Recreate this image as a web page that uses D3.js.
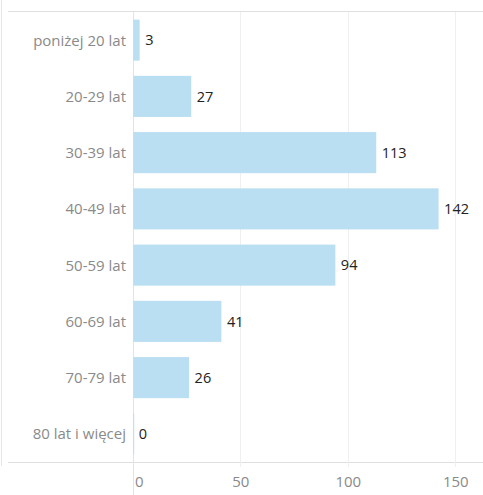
<!DOCTYPE html>
<html><head><meta charset="utf-8">
<script src="https://cdn.jsdelivr.net/npm/d3@7"></script>
<style>
html,body{margin:0;padding:0;background:#fff;}
svg{display:block;font-family:"Open Sans","Lato",sans-serif;}
</style></head>
<body>
<svg id="chart" width="483" height="495"></svg>
<script>
const categories = ["poniżej 20 lat","20-29 lat","30-39 lat","40-49 lat","50-59 lat","60-69 lat","70-79 lat","80 lat i więcej"];
const values = [3,27,113,142,94,41,26,0];
const tickValues = [0,50,100,150];

const svg = d3.select("#chart");
const W = 483, H = 495;
const x0 = 132.7, plotTop = 12, plotBottom = 462;
const x = d3.scaleLinear().domain([0,150]).range([x0, 455.3]);
const y = d3.scaleBand().domain(categories).range([plotTop, plotBottom]).paddingInner(0.27).paddingOuter(0.135);

// frame lines
svg.append("line").attr("x1",1.5).attr("x2",1.5).attr("y1",0).attr("y2",466).attr("stroke","#e6e6e6").attr("stroke-width",1);
svg.append("line").attr("x1",8).attr("x2",W).attr("y1",11.5).attr("y2",11.5).attr("stroke","#e0e0e0").attr("stroke-width",1);
svg.append("line").attr("x1",8).attr("x2",W).attr("y1",462.5).attr("y2",462.5).attr("stroke","#e0e0e0").attr("stroke-width",1);

// gridlines
svg.append("g").selectAll("line").data(tickValues.slice(1)).join("line")
  .attr("x1",d=>Math.round(x(d))+0.5).attr("x2",d=>Math.round(x(d))+0.5)
  .attr("y1",plotTop).attr("y2",467).attr("stroke","#efefef").attr("stroke-width",1);
// zero line
svg.append("line").attr("x1",Math.round(x(0))+0.5).attr("x2",Math.round(x(0))+0.5)
  .attr("y1",plotTop).attr("y2",H).attr("stroke","#e3e3e3").attr("stroke-width",1);

// bars
svg.append("g").selectAll("rect").data(values).join("rect")
  .attr("x",x(0)+0.5)
  .attr("y",(d,i)=>y(categories[i]))
  .attr("width",d=>Math.max(1, x(d)-x(0)))
  .attr("height",y.bandwidth())
  .attr("fill","#badff2");

// value labels
svg.append("g").selectAll("text").data(values).join("text")
  .attr("x",d=>x(d)+6)
  .attr("y",(d,i)=>y(categories[i])+y.bandwidth()/2)
  .attr("dy","0.36em")
  .attr("font-size",14.5)
  .attr("fill","#222")
  .text(d=>d);

// category labels
svg.append("g").selectAll("text").data(categories).join("text")
  .attr("x",126)
  .attr("y",d=>y(d)+y.bandwidth()/2)
  .attr("dy","0.36em")
  .attr("text-anchor","end")
  .attr("font-size",15)
  .attr("fill","#8a8a8a")
  .text(d=>d);

// axis tick labels
const axis = d3.axisBottom(x).tickValues(tickValues).tickSize(0).tickPadding(0);
const ag = svg.append("g").attr("transform","translate(0,476)").call(axis);
ag.select(".domain").remove();
ag.selectAll("text").attr("font-size",15).attr("fill","#8a8a8a").attr("font-family","Open Sans, Lato, sans-serif")
  .attr("dy","0.71em").attr("dx",d=>d===0?6:0);
</script>
</body></html>
